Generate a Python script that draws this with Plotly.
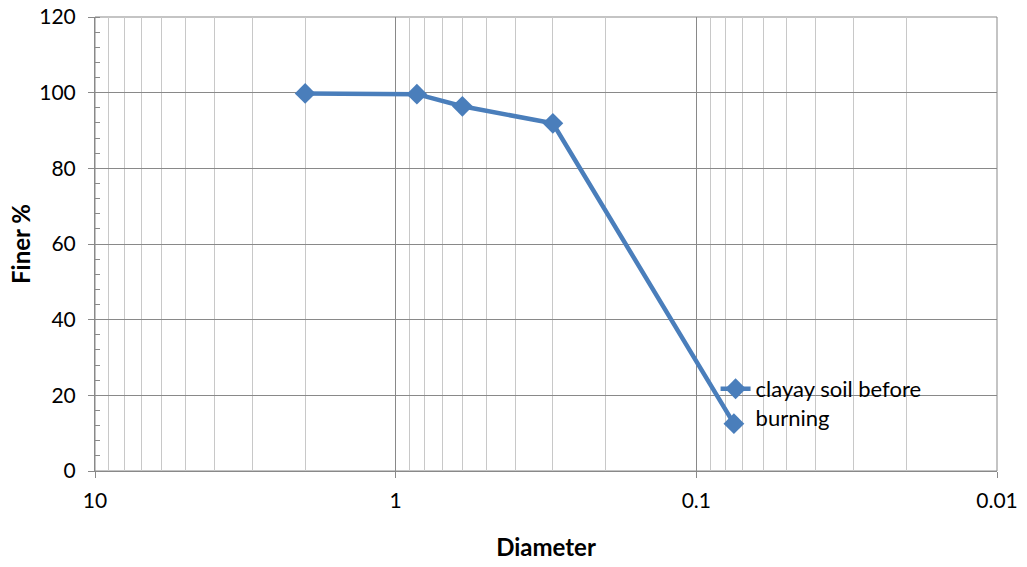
import plotly.graph_objects as go

diameter = [2.0, 0.85, 0.6, 0.3, 0.075]
finer = [99.8, 99.6, 96.4, 91.9, 12.5]
series_name = "clayay soil before<br>burning"
x_tickvals = [10, 1, 0.1, 0.01]
x_ticktext = ["10", "1", "0.1", "0.01"]

color = "#4A7EBB"
font = "Lato, Carlito, Liberation Sans, sans-serif"

fig = go.Figure()
fig.add_trace(go.Scatter(
    x=diameter, y=finer, mode="lines+markers", name=series_name,
    line=dict(color=color, width=4.5),
    marker=dict(symbol="diamond", size=16, color=color),
))

fig.update_layout(
    width=1027, height=567,
    margin=dict(l=95, r=30, t=17, b=96, autoexpand=False),
    paper_bgcolor="white", plot_bgcolor="white",
    font=dict(family=font, size=21, color="black"),
    showlegend=True,
    legend=dict(x=0.688, y=0.227, xanchor="left", yanchor="top",
                bgcolor="rgba(0,0,0,0)", font=dict(size=22), valign="top",
                itemwidth=30, tracegroupgap=0),
)
fig.update_xaxes(
    type="log", range=[1, -2], automargin=False,
    tickvals=x_tickvals, ticktext=x_ticktext,
    showgrid=True, gridcolor="#898989", gridwidth=1,
    showline=True, linecolor="#898989", linewidth=1, mirror=False,
    ticks="outside", ticklen=6, tickcolor="#898989",
    ticklabelstandoff=5, ticklabeloverflow="allow",
    minor=dict(dtick="D1", showgrid=True, gridcolor="#C8C8C8", gridwidth=1, ticks=""),
    title=dict(text="<b>Diameter</b>", font=dict(size=24), standoff=27),
    zeroline=False,
)
fig.update_yaxes(
    range=[0, 120], dtick=20, automargin=False,
    showgrid=True, gridcolor="#898989", gridwidth=1,
    showline=True, linecolor="#898989", linewidth=1,
    ticks="outside", ticklen=6, tickcolor="#898989",
    ticklabelstandoff=8, ticklabeloverflow="allow",
    minor=dict(dtick=4, ticks="inside", ticklen=5, tickcolor="#898989", showgrid=False),
    title=dict(text="<b>Finer %</b>", font=dict(size=24), standoff=1),
    zeroline=False,
)
fig.add_shape(type="rect", xref="paper", yref="paper", x0=0, y0=0, x1=1, y1=1,
              line=dict(color="#898989", width=1), layer="below")

fig.write_html("out.html", config={"displayModeBar": False},
               post_script="document.body.style.margin='0';")
